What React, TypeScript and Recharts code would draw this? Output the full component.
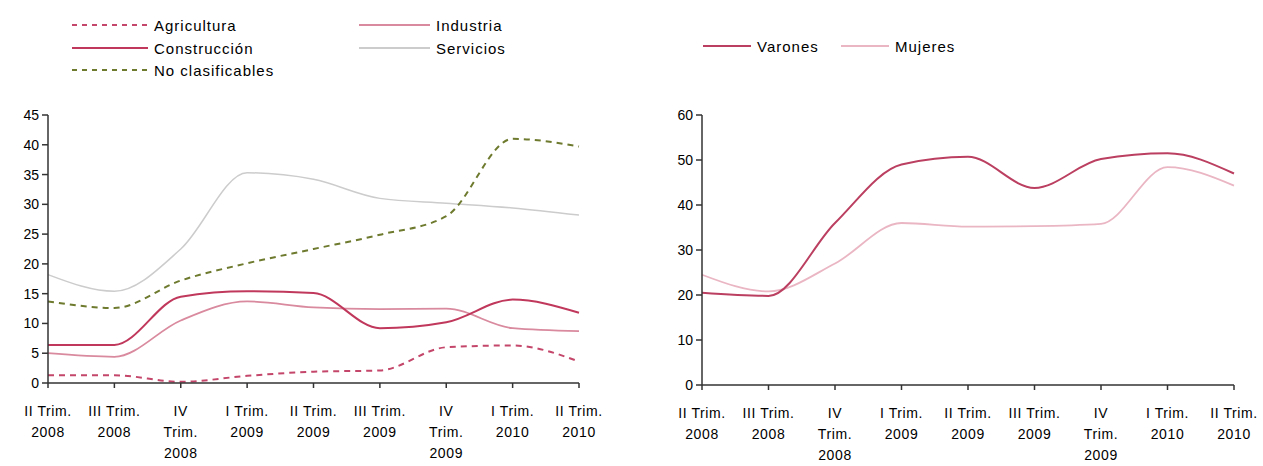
import React from "react";
import { LineChart, Line, XAxis, YAxis } from "recharts";

const quarters = [
  "II Trim.\n2008",
  "III Trim.\n2008",
  "IV\nTrim.\n2008",
  "I Trim.\n2009",
  "II Trim.\n2009",
  "III Trim.\n2009",
  "IV\nTrim.\n2009",
  "I Trim.\n2010",
  "II Trim.\n2010",
];

// left panel: by sector
const agricultura = [1.3, 1.3, 0.2, 1.2, 1.9, 2.1, 6.0, 6.3, 3.6];
const industria = [5.0, 4.4, 10.5, 13.7, 12.7, 12.4, 12.5, 9.2, 8.7];
const construccion = [6.4, 6.4, 14.5, 15.4, 15.1, 9.2, 10.2, 14.0, 11.8];
const servicios = [18.2, 15.4, 22.5, 35.3, 34.2, 31.0, 30.2, 29.4, 28.2];
const noClasificables = [13.7, 12.6, 17.2, 20.1, 22.5, 24.9, 28.0, 41.0, 39.7];

// right panel: by sex
const varones = [20.5, 19.8, 36.0, 49.0, 50.7, 43.8, 50.2, 51.5, 47.0];
const mujeres = [24.5, 20.8, 27.0, 36.0, 35.2, 35.3, 35.8, 48.4, 44.3];

const leftTicks = [0, 5, 10, 15, 20, 25, 30, 35, 40, 45];
const rightTicks = [0, 10, 20, 30, 40, 50, 60];

const sectorData = quarters.map((q, i) => ({
  q,
  agricultura: agricultura[i],
  industria: industria[i],
  construccion: construccion[i],
  servicios: servicios[i],
  noClasificables: noClasificables[i],
}));

const sexData = quarters.map((q, i) => ({
  q,
  varones: varones[i],
  mujeres: mujeres[i],
}));

const FONT = '"Liberation Sans", Arial, sans-serif';
const AXIS = "#333333";

type LegendItem = { name: string; color: string; dash?: string; width: number; x: number; y: number; len: number };

const leftLegend: LegendItem[] = [
  { name: "Agricultura", color: "#c4466a", dash: "5 5", width: 2, x: 72, y: 25, len: 76 },
  { name: "Construcción", color: "#c0385c", width: 2, x: 72, y: 48, len: 76 },
  { name: "No clasificables", color: "#6e7a2e", dash: "5 5", width: 2, x: 72, y: 70, len: 76 },
  { name: "Industria", color: "#d98a9e", width: 2, x: 359, y: 25, len: 71 },
  { name: "Servicios", color: "#cccccc", width: 2, x: 359, y: 48, len: 71 },
];

const rightLegend: LegendItem[] = [
  { name: "Varones", color: "#bb3f60", width: 2, x: 703, y: 46, len: 48 },
  { name: "Mujeres", color: "#eab6c4", width: 2, x: 841, y: 46, len: 48 },
];

function Legend({ items }: { items: LegendItem[] }) {
  return (
    <>
      {items.map((it) => (
        <div
          key={it.name}
          style={{
            position: "absolute",
            left: it.x,
            top: it.y - 10,
            height: 20,
            display: "flex",
            alignItems: "center",
            whiteSpace: "nowrap",
          }}
        >
          <svg width={it.len} height={20} style={{ display: "block" }}>
            <line
              x1={0}
              y1={10}
              x2={it.len}
              y2={10}
              stroke={it.color}
              strokeWidth={it.width}
              strokeDasharray={it.dash}
            />
          </svg>
          <span style={{ marginLeft: 6, fontSize: 15, letterSpacing: 1, color: "#000" }}>{it.name}</span>
        </div>
      ))}
    </>
  );
}

function QuarterTick(props: any) {
  const { x, y, payload } = props;
  const lines = String(payload.value).split("\n");
  return (
    <text x={x} y={y} textAnchor="middle" fill="#000" fontSize={14} fontFamily={FONT} letterSpacing={0.6}>
      {lines.map((l, i) => (
        <tspan key={i} x={x} dy={i === 0 ? 28 : 21}>
          {l}
        </tspan>
      ))}
    </text>
  );
}

const yTickStyle = { fill: "#000", fontSize: 14, fontFamily: FONT };

export default function App() {
  return (
    <div
      style={{
        position: "absolute",
        left: 0,
        top: 0,
        width: 1263,
        height: 466,
        overflow: "hidden",
        background: "#fff",
        fontFamily: FONT,
      }}
    >
      <Legend items={leftLegend} />
      <Legend items={rightLegend} />

      <div style={{ position: "absolute", left: 0, top: 0 }}>
        <LineChart width={620} height={466} data={sectorData} margin={{ top: 115, right: 41, bottom: 0, left: 8 }}>
          <XAxis
            dataKey="q"
            interval={0}
            height={83}
            tick={<QuarterTick />}
            tickSize={5}
            tickMargin={0}
            axisLine={{ stroke: AXIS, strokeWidth: 1.5 }}
            tickLine={{ stroke: AXIS, strokeWidth: 1.5 }}
          />
          <YAxis
            width={40}
            domain={[0, 45]}
            ticks={leftTicks}
            interval={0}
            tick={yTickStyle}
            tickSize={6}
            tickMargin={3}
            axisLine={{ stroke: AXIS, strokeWidth: 1.5 }}
            tickLine={{ stroke: AXIS, strokeWidth: 1.5 }}
          />
          <Line type="monotone" dataKey="servicios" stroke="#cccccc" strokeWidth={1.5} dot={false} isAnimationActive={false} />
          <Line type="monotone" dataKey="noClasificables" stroke="#6e7a2e" strokeWidth={2} strokeDasharray="6 5" dot={false} isAnimationActive={false} />
          <Line type="monotone" dataKey="industria" stroke="#d98a9e" strokeWidth={1.8} dot={false} isAnimationActive={false} />
          <Line type="monotone" dataKey="construccion" stroke="#c0385c" strokeWidth={2} dot={false} isAnimationActive={false} />
          <Line type="monotone" dataKey="agricultura" stroke="#c4466a" strokeWidth={2} strokeDasharray="6 5" dot={false} isAnimationActive={false} />
        </LineChart>
      </div>

      <div style={{ position: "absolute", left: 640, top: 0 }}>
        <LineChart width={620} height={466} data={sexData} margin={{ top: 115, right: 26, bottom: 0, left: 22 }}>
          <XAxis
            dataKey="q"
            interval={0}
            height={81}
            tick={<QuarterTick />}
            tickSize={5}
            tickMargin={0}
            axisLine={{ stroke: AXIS, strokeWidth: 1.5 }}
            tickLine={{ stroke: AXIS, strokeWidth: 1.5 }}
          />
          <YAxis
            width={40}
            domain={[0, 60]}
            ticks={rightTicks}
            interval={0}
            tick={yTickStyle}
            tickSize={6}
            tickMargin={3}
            axisLine={{ stroke: AXIS, strokeWidth: 1.5 }}
            tickLine={{ stroke: AXIS, strokeWidth: 1.5 }}
          />
          <Line type="monotone" dataKey="mujeres" stroke="#eab6c4" strokeWidth={1.8} dot={false} isAnimationActive={false} />
          <Line type="monotone" dataKey="varones" stroke="#bb3f60" strokeWidth={2} dot={false} isAnimationActive={false} />
        </LineChart>
      </div>
    </div>
  );
}
